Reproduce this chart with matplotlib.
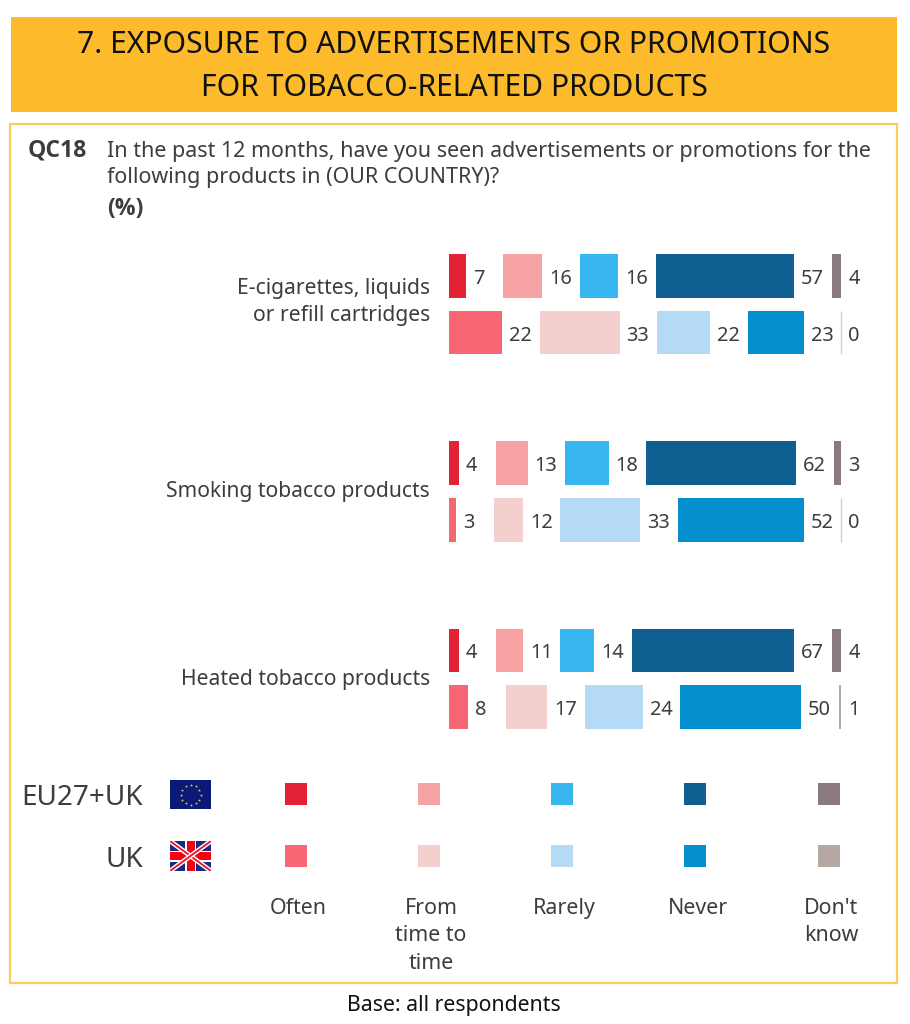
import numpy as np
import matplotlib
matplotlib.use("Agg")
import matplotlib.pyplot as plt
from matplotlib.patches import Rectangle

# ---------- data ----------
title_lines = ["7. EXPOSURE TO ADVERTISEMENTS OR PROMOTIONS", "FOR TOBACCO-RELATED PRODUCTS"]
question_code = "QC18"
question_lines = ["In the past 12 months, have you seen advertisements or promotions for the",
                  "following products in (OUR COUNTRY)?"]
unit_label = "(%)"
base_note = "Base: all respondents"
products = ["E-cigarettes, liquids\nor refill cartridges", "Smoking tobacco products", "Heated tobacco products"]
responses = ["Often", "From\ntime to\ntime", "Rarely", "Never", "Don't\nknow"]
eu_values = [[7, 16, 16, 57, 4], [4, 13, 18, 62, 3], [4, 11, 14, 67, 4]]
uk_values = [[22, 33, 22, 23, 0], [3, 12, 33, 52, 0], [8, 17, 24, 50, 1]]
eu_colors = ["#E42235", "#F8A3A3", "#38B6F0", "#0F6090", "#8A7A7F"]
uk_colors = ["#F66673", "#F5CFCE", "#B5DAF6", "#0490CE", "#B5A8A1"]

# ---------- layout helpers ----------
W, H = 910, 1024
TEXT = "#3d3d3d"
FONT = "Noto Sans"
BOLD = "Open Sans"
plt.rcParams["font.family"] = [FONT, "DejaVu Sans"]
fig = plt.figure(figsize=(W / 100, H / 100), dpi=100, facecolor="white")

# pixel-space axes for frame, text, legend
bg = fig.add_axes([0, 0, 1, 1])
bg.set_xlim(0, W)
bg.set_ylim(H, 0)
bg.axis("off")

bg.add_patch(Rectangle((10.5, 17), 886.5, 95, fc="#FDBB2B", ec="none"))
bg.add_patch(Rectangle((9.5, 124), 887.5, 859, fc="white", ec="#FDCB62", lw=1.6))
for y, line in zip([45, 88], title_lines):
    bg.text(454, y, line, ha="center", va="center", fontsize=21.7, color="#111111")

bg.text(28, 150, question_code, ha="left", va="center", fontsize=16.6, fontweight="bold",
        family=BOLD, color=TEXT)
for y, line in zip([151, 178], question_lines):
    bg.text(107, y, line, ha="left", va="center", fontsize=15.45, color=TEXT)
bg.text(107, 209, unit_label, ha="left", va="center", fontsize=16.6, fontweight="bold",
        family=BOLD, color=TEXT)
bg.text(454, 1006, base_note, ha="center", va="center", fontsize=15.3, color="#111111")

# product labels
label_y = [302, 492, 679]
for y, name in zip(label_y, products):
    bg.text(430, y, name, ha="right", va="center", fontsize=15.2, color=TEXT, linespacing=1.36)

# ---------- bars ----------
PX_PER_UNIT = 2.42
GAP_UNITS = 37.55 / PX_PER_UNIT
AX_L, AX_R, AX_T, AX_B = 449, 870, 240, 740
ax = fig.add_axes([AX_L / W, 1 - AX_B / H, (AX_R - AX_L) / W, (AX_B - AX_T) / H])
ax.set_xlim(0, (AX_R - AX_L) / PX_PER_UNIT)
GROUP_PX = 187.2
ROW_PX = 56.6
ax.set_ylim((AX_B - 276) / GROUP_PX, (AX_T - 276) / GROUP_PX)
ax.axis("off")
ax.patch.set_alpha(0)


def draw_row(values, colors, y):
    left = 0.0
    for v, c in zip(values, colors):
        if v == 0:
            ax.vlines(left, y - 21.7 / GROUP_PX, y + 21.7 / GROUP_PX, color="#cfcfcf", lw=1)
        else:
            ax.barh(y, v, left=left, height=43.5 / GROUP_PX, color=c, lw=0)
        ax.annotate(str(v), (left + v, y), xytext=(5.0, -2.2), textcoords="offset points",
                    ha="left", va="center", fontsize=14.4, color=TEXT)
        left += v + GAP_UNITS


for i in range(len(products)):
    draw_row(eu_values[i], eu_colors, i)
    draw_row(uk_values[i], uk_colors, i + ROW_PX / GROUP_PX)

# ---------- legend ----------
legend_x = [296, 429, 562, 695, 829]
text_x = [298, 431, 564, 698, 831]
for x, tx, c1, c2, name in zip(legend_x, text_x, eu_colors, uk_colors, responses):
    bg.add_patch(Rectangle((x - 11, 783), 22, 22, fc=c1, ec="none"))
    bg.add_patch(Rectangle((x - 11, 845), 22, 22, fc=c2, ec="none"))
    bg.text(tx, 898, name, ha="center", va="top", fontsize=15.4, color=TEXT, linespacing=1.4)

bg.text(143, 798, "EU27+UK", ha="right", va="center", fontsize=20.1, color=TEXT)
bg.text(143, 860, "UK", ha="right", va="center", fontsize=20.1, color=TEXT)

# EU flag
fx, fw = 170, 41
bg.add_patch(Rectangle((fx, 780), fw, 29, fc="#0B1A78", ec="none"))
ang = np.deg2rad(np.arange(0, 360, 30))
bg.scatter(fx + fw / 2 + 10 * np.cos(ang), 794.5 + 10 * np.sin(ang), s=5, marker="*", c="#E8D44A", lw=0)

# UK flag
uy, uh = 841, 30
clip = Rectangle((fx, uy), fw, uh, fc="#1A2A80", ec="none")
bg.add_patch(clip)
for (x0, y0, x1, y1) in [(fx, uy, fx + fw, uy + uh), (fx, uy + uh, fx + fw, uy)]:
    l1, = bg.plot([x0, x1], [y0, y1], color="white", lw=3.4, solid_capstyle="butt")
    l2, = bg.plot([x0, x1], [y0, y1], color="#F01020", lw=1.3, solid_capstyle="butt")
    l1.set_clip_path(clip)
    l2.set_clip_path(clip)
bg.add_patch(Rectangle((fx, uy + 9.5), fw, 11, fc="white", ec="none"))
bg.add_patch(Rectangle((fx + 15, uy), 11, uh, fc="white", ec="none"))
bg.add_patch(Rectangle((fx, uy + 11), fw, 8, fc="#F80010", ec="none"))
bg.add_patch(Rectangle((fx + 16.5, uy), 8, uh, fc="#F80010", ec="none"))

fig.savefig("out.png", dpi=100, facecolor="white")
